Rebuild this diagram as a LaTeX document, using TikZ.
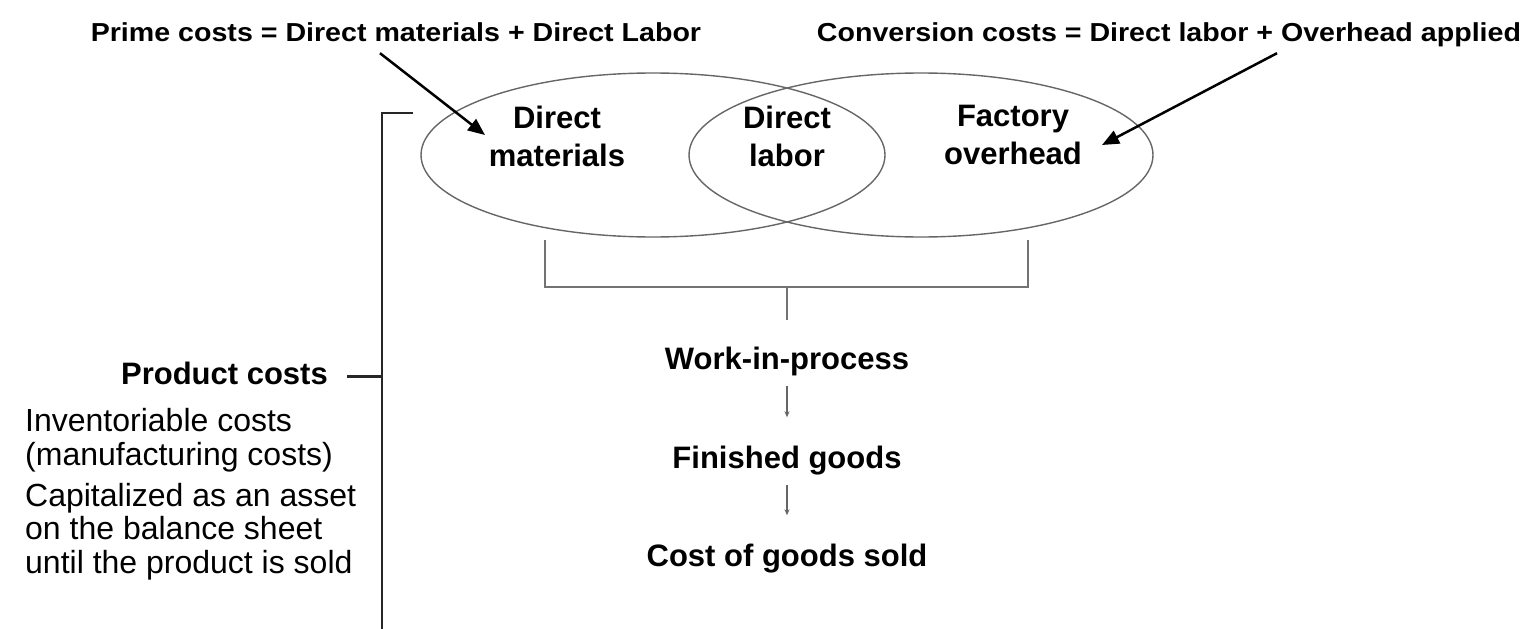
\documentclass[tikz,border=0pt]{standalone}
\usepackage{fontspec}
\setmainfont{Liberation Sans}
\usetikzlibrary{arrows.meta,shapes.geometric}

\begin{document}
\begin{tikzpicture}[x=1pt,y=-1pt]
        \tikzstyle{eqn}=[font=\bfseries\fontsize{26}{30}\selectfont,inner sep=0pt,text height=19pt,text depth=6pt]
        \tikzstyle{cost}=[font=\bfseries\fontsize{31}{38}\selectfont,align=center,inner sep=0pt,text height=23pt,text depth=7pt]
        \tikzstyle{note}=[font=\fontsize{32}{33.5}\selectfont,align=left,inner sep=0pt,anchor=west]
        \tikzstyle{blob}=[draw=black!60,line width=1.4pt,ellipse,inner sep=0pt]
        \tikzstyle{big arrow}=[line width=2.5pt,-{Triangle[length=17pt,width=14pt]}]
        \tikzstyle{flow}=[draw=black!60,line width=1.2pt,-{Stealth[length=6pt,width=5pt]},shorten <=9pt,shorten >=28pt]
        \tikzstyle{bar}=[draw=black!55,line width=1.4pt]
        \tikzstyle{bracket}=[draw=black!85,line width=2.2pt]

        \useasboundingbox (0,0) rectangle (1526,629);

        % two overlapping cost sets, direct labor sits in the overlap
        \node[blob,minimum width=464pt,minimum height=164pt] (matset) at (653,155) {};
        \node[blob,minimum width=464pt,minimum height=164pt] (ohset) at (921,155) {};

        \node[cost] (dm) at (557,158) {Direct\\materials};
        \node[cost] (dl) at (787,158) {Direct\\labor};
        \node[cost] (fo) at (1013,156) {Factory\\overhead};

        % prime / conversion costs
        \node[eqn] (prime) at (396,35) {\scalebox{1.1}[1]{Prime costs = Direct materials + Direct Labor}};
        \node[eqn] (conv) at (1169,35) {\scalebox{1.1}[1]{Conversion costs = Direct labor + Overhead applied}};
        \coordinate (dmtip) at (485,135);
        \coordinate (fotip) at (1102,145);
        \draw[big arrow] ([xshift=-16pt,yshift=-5.5pt]prime.south) -- (dmtip);
        \draw[big arrow] ([xshift=108pt,yshift=-5.5pt]conv.south) -- (fotip);

        % inventory flow
        \node[cost] (wip) at (787,361.5) {Work-in-process};
        \node[cost] (fg) at (787,460.5) {Finished goods};
        \node[cost] (cogs) at (787,558.5) {Cost of goods sold};

        \coordinate (brL) at (545,240);
        \coordinate (brR) at (1028,240);
        \coordinate (brM) at (787,287);
        \draw[bar] (brL) |- (brR |- brM) -- (brR);
        \draw[bar] (brM) -- ([yshift=26pt]wip.north);
        \draw[flow] (wip) -- (fg);
        \draw[flow] (fg) -- (cogs);

        % product costs bracket
        \coordinate (brtop) at (382,113);
        \coordinate (brbot) at (382,629);
        \draw[bracket] (413,113) -- (brtop) -- (brbot);
        \node[cost,anchor=east] (prod) at (328,376.5) {Product costs};
        \draw[bracket] ([xshift=19pt]prod.east) -- (prod.east -| brtop);

        \node[note] (inv) at (25,440) {Inventoriable costs\\(manufacturing costs)};
        \node[note] (cap) at (25,531.5) {Capitalized as an asset\\on the balance sheet\\until the product is sold};
    \end{tikzpicture}
\end{document}
